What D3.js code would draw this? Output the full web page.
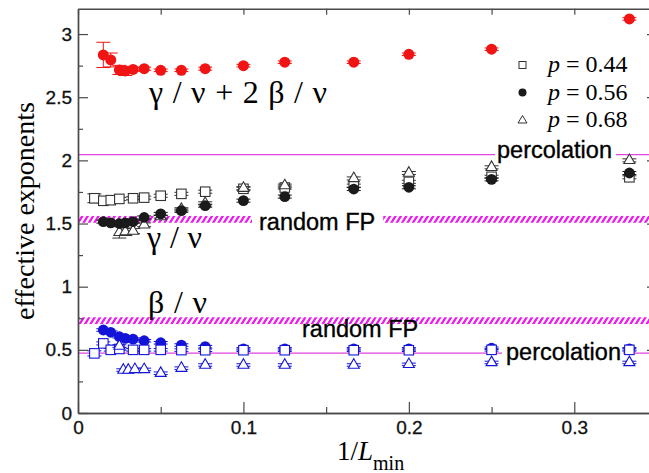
<!DOCTYPE html>
<html><head><meta charset="utf-8">
<script src="https://cdn.jsdelivr.net/npm/d3@7"></script>
<style>body{margin:0;background:#fff;} svg{display:block;}</style>
</head><body>
<svg id="chart" width="649" height="473"></svg>
<script>
// ---------- data ----------
const xTicks = [0, 0.1, 0.2, 0.3];
const xTickLabels = ["0", "0.1", "0.2", "0.3"];
const xMinorTicks = [0.05, 0.15, 0.25];
const yTicks = [0, 0.5, 1, 1.5, 2, 2.5, 3];
const yTickLabels = ["0", "0.5", "1", "1.5", "2", "2.5", "3"];
const yMinorTicks = [0.25, 0.75, 1.25, 1.75, 2.25, 2.75];

// gamma/nu + 2 beta/nu (red)
const xRed = [0.0153, 0.0198, 0.025, 0.0286, 0.0333, 0.04, 0.05, 0.0625, 0.0769, 0.1, 0.125, 0.1667, 0.2, 0.25, 0.3333];
const redVals = [2.835, 2.795, 2.716, 2.708, 2.72, 2.726, 2.713, 2.713, 2.726, 2.75, 2.777, 2.777, 2.84, 2.88, 3.12];
const redErr  = [0.10, 0.055, 0.036, 0.036, 0.015, 0.012, 0.01, 0.01, 0.012, 0.01, 0.01, 0.01, 0.01, 0.01, 0.01];

// gamma/nu, p = 0.44 (open squares)
const xSq = [0.0099, 0.0153, 0.0198, 0.025, 0.0333, 0.04, 0.05, 0.0625, 0.0769, 0.1, 0.125, 0.1667, 0.2, 0.25, 0.3333];
const gammaP44 = [1.70, 1.68, 1.685, 1.695, 1.70, 1.705, 1.72, 1.735, 1.752, 1.775, 1.785, 1.80, 1.83, 1.87, 1.866];
const gammaP44Err = [0.035, 0.015, 0.012, 0.012, 0.012, 0.012, 0.012, 0.012, 0.012, 0.012, 0.012, 0.012, 0.012, 0.012, 0.012];
// gamma/nu, p = 0.56 (filled circles)
const xCirc = [0.0153, 0.0198, 0.025, 0.0286, 0.0333, 0.04, 0.05, 0.0625, 0.0769, 0.1, 0.125, 0.1667, 0.2, 0.25, 0.3333];
const gammaP56 = [1.515, 1.505, 1.50, 1.505, 1.515, 1.548, 1.576, 1.602, 1.641, 1.681, 1.713, 1.773, 1.787, 1.85, 1.90];
const gammaP56Err = [0.012, 0.012, 0.012, 0.012, 0.012, 0.012, 0.012, 0.012, 0.012, 0.012, 0.012, 0.012, 0.012, 0.012, 0.012];
// gamma/nu, p = 0.68 (open triangles)
const xTri = [0.025, 0.0286, 0.0333, 0.04, 0.05, 0.0625, 0.0769, 0.1, 0.125, 0.1667, 0.2, 0.25, 0.3333];
const gammaP68 = [1.43, 1.435, 1.44, 1.49, 1.555, 1.613, 1.66, 1.78, 1.80, 1.857, 1.90, 1.945, 2.0];
const gammaP68Err = [0.045, 0.03, 0.02, 0.015, 0.012, 0.012, 0.012, 0.012, 0.012, 0.012, 0.012, 0.012, 0.012];

// beta/nu, p = 0.44 (open blue squares)
const betaP44 = [0.472, 0.551, 0.50, 0.507, 0.50, 0.50, 0.50, 0.498, 0.497, 0.497, 0.497, 0.497, 0.497, 0.50, 0.50];
const betaP44Err = [0.02, 0.012, 0.01, 0.01, 0.01, 0.01, 0.01, 0.01, 0.01, 0.01, 0.01, 0.01, 0.01, 0.01, 0.01];
// beta/nu, p = 0.56 (filled blue circles)
const betaP56 = [0.657, 0.639, 0.604, 0.591, 0.585, 0.572, 0.556, 0.538, 0.525, 0.508, 0.508, 0.508, 0.508, 0.513, 0.508];
const betaP56Err = [0.01, 0.01, 0.01, 0.01, 0.01, 0.01, 0.01, 0.01, 0.01, 0.01, 0.01, 0.01, 0.01, 0.01, 0.01];
// beta/nu, p = 0.68 (open blue triangles)
const xTriB = [0.025, 0.0274, 0.0304, 0.0344, 0.04, 0.05, 0.0625, 0.0769, 0.1, 0.125, 0.1667, 0.2, 0.25, 0.3333];
const betaP68 = [0.53, 0.34, 0.34, 0.345, 0.345, 0.315, 0.355, 0.38, 0.38, 0.38, 0.38, 0.385, 0.40, 0.40];
const betaP68Err = [0.01, 0.01, 0.01, 0.01, 0.01, 0.01, 0.01, 0.01, 0.01, 0.01, 0.01, 0.01, 0.01, 0.01];

// reference values
const gammaPerc = 2.045, gammaRandom = 1.533, gammaRandomHalf = 0.027;
const betaPerc = 0.474, betaRandom = 0.731, betaRandomHalf = 0.027;

const legendLabels = ["0.44", "0.56", "0.68"];

// ---------- drawing ----------
const svg = d3.select("#chart");
const x = d3.scaleLinear().domain([0, 0.35]).range([78, 657]);
const y = d3.scaleLinear().domain([0, 3.2]).range([413, 8.8]);

const MAG = "#ee1cee";
const defs = svg.append("defs");
const pat = defs.append("pattern").attr("id", "hatch")
  .attr("patternUnits", "userSpaceOnUse").attr("width", 5.4).attr("height", 40)
  .attr("patternTransform", "skewX(-32)");
pat.append("rect").attr("x", 0).attr("y", 0).attr("width", 5.4).attr("height", 40).attr("fill", "#fff");
pat.append("rect").attr("x", 0).attr("y", 0).attr("width", 2.7).attr("height", 40).attr("fill", MAG);
defs.append("clipPath").attr("id", "plotclip").append("rect")
  .attr("x", 78).attr("y", 8.8).attr("width", 579).attr("height", 404.2);

const plot = svg.append("g").attr("clip-path", "url(#plotclip)");

[[gammaRandom, gammaRandomHalf], [betaRandom, betaRandomHalf]].forEach(([v, h]) => {
  plot.append("rect").attr("x", x(0)).attr("width", x(0.35) - x(0))
    .attr("y", y(v + h)).attr("height", y(v - h) - y(v + h))
    .attr("fill", "url(#hatch)");
});
[gammaPerc, betaPerc].forEach(v => {
  plot.append("line").attr("x1", x(0)).attr("x2", x(0.35))
    .attr("y1", y(v)).attr("y2", y(v)).attr("stroke", "#e045e0").attr("stroke-width", 1.3);
});

const sans = "Liberation Sans, Arial, Helvetica, sans-serif";
const serif = "Liberation Serif, Times New Roman, Times, serif";
const annBg = svg.append("g");
function sansText(g, txt, px, py) {
  return g.append("text").attr("x", px).attr("y", py)
    .attr("font-family", sans).attr("font-size", 23.5).attr("fill", "#000")
    .attr("stroke", "#000").attr("stroke-width", 0.35).text(txt);
}
function annotate(g, txt, px, py, padL, padR) {
  const t = sansText(g, txt, px, py);
  const b = t.node().getBBox();
  annBg.append("rect").attr("x", b.x - padL).attr("y", b.y + 3)
    .attr("width", b.width + padL + padR).attr("height", b.height - 4).attr("fill", "#fff");
}

// Greek labels
function greek(txt, px, py, len) {
  svg.append("text").attr("x", px).attr("y", py).attr("font-family", serif)
    .attr("font-size", 32).attr("fill", "#000").attr("xml:space", "preserve")
    .attr("textLength", len).attr("lengthAdjust", "spacing").text(txt);
}
greek("γ / ν + 2 β / ν", 149, 103, 178);
greek("γ / ν", 147, 248, 55);
greek("β / ν", 148, 313, 59);

// ---------- data marks ----------
const dataG = svg.append("g");
const annFg = svg.append("g");
annotate(annFg, "random FP", 259, 230, 7, 8);
annotate(annFg, "percolation", 497, 158, 2, 4);
annotate(annFg, "percolation", 506, 360, 4, 2);
sansText(annFg, "random FP", 302, 337);

function errbars(xs, vs, es, color) {
  const g = dataG.append("g").attr("stroke", color).attr("stroke-width", 1);
  xs.forEach((xv, i) => {
    const cx = x(xv), y1 = y(vs[i] + es[i]), y2 = y(vs[i] - es[i]);
    g.append("line").attr("x1", cx).attr("x2", cx).attr("y1", y1).attr("y2", y2);
    g.append("line").attr("x1", cx - 7).attr("x2", cx + 7).attr("y1", y1).attr("y2", y1);
    g.append("line").attr("x1", cx - 7).attr("x2", cx + 7).attr("y1", y2).attr("y2", y2);
  });
}
function circles(xs, vs, color, r) {
  dataG.append("g").selectAll("circle").data(xs).join("circle")
    .attr("cx", d => x(d)).attr("cy", (d, i) => y(vs[i])).attr("r", r).attr("fill", color);
}
function squares(xs, vs, color, s) {
  dataG.append("g").selectAll("rect").data(xs).join("rect")
    .attr("x", d => x(d) - s / 2).attr("y", (d, i) => y(vs[i]) - s / 2)
    .attr("width", s).attr("height", s).attr("fill", "#fff").attr("stroke", color).attr("stroke-width", 1.1);
}
function triangles(xs, vs, color, s) {
  const h = s * Math.sqrt(3) / 2;
  dataG.append("g").selectAll("path").data(xs).join("path")
    .attr("d", (d, i) => {
      const cx = x(d), cy = y(vs[i]);
      return `M${cx},${cy - h * 2 / 3}L${cx + s / 2},${cy + h / 3}L${cx - s / 2},${cy + h / 3}Z`;
    })
    .attr("fill", "#fff").attr("stroke", color).attr("stroke-width", 1.1);
}
const BLK = "#1a1a1a", GRY = "#333", BLU = "#1414d8", RED = "#f01414";

errbars(xSq, gammaP44, gammaP44Err, GRY);
squares(xSq, gammaP44, GRY, 9.5);
errbars(xTri, gammaP68, gammaP68Err, GRY);
triangles(xTri, gammaP68, GRY, 11);
errbars(xCirc, gammaP56, gammaP56Err, BLK);
circles(xCirc, gammaP56, BLK, 5.4);

errbars(xCirc, betaP56, betaP56Err, BLU);
circles(xCirc, betaP56, BLU, 5.4);
errbars(xSq, betaP44, betaP44Err, BLU);
squares(xSq, betaP44, BLU, 9.5);
errbars(xTriB, betaP68, betaP68Err, BLU);
triangles(xTriB, betaP68, BLU, 11);

errbars(xRed, redVals, redErr, RED);
circles(xRed, redVals, RED, 5.5);

// ---------- axes ----------
const AX = "#4a4a4a";
function styleAxis(g) {
  g.select(".domain").attr("stroke", AX).attr("stroke-width", 1.4);
  g.selectAll(".tick line").attr("stroke", AX).attr("stroke-width", 1.2);
  g.selectAll("text").attr("font-family", sans).attr("font-size", 19).attr("fill", "#111")
    .attr("stroke", "#111").attr("stroke-width", 0.3);
}
svg.append("g").attr("transform", `translate(${x(0)},0)`)
  .call(d3.axisLeft(y).tickValues(yTicks).tickSizeInner(-10).tickSizeOuter(0).tickPadding(6)
    .tickFormat((d, i) => yTickLabels[i])).call(styleAxis);
svg.append("g").attr("transform", `translate(${x(0)},0)`)
  .call(d3.axisLeft(y).tickValues(yMinorTicks).tickSizeInner(-5).tickSizeOuter(0).tickFormat(""))
  .call(styleAxis);
svg.append("g").attr("transform", `translate(0,${y(0)})`)
  .call(d3.axisBottom(x).tickValues(xTicks).tickSizeInner(-11).tickSizeOuter(0).tickPadding(8)
    .tickFormat((d, i) => xTickLabels[i])).call(styleAxis);
svg.append("g").attr("transform", `translate(0,${y(0)})`)
  .call(d3.axisBottom(x).tickValues(xMinorTicks).tickSizeInner(-6).tickSizeOuter(0).tickFormat(""))
  .call(styleAxis);
svg.append("g").attr("transform", `translate(0,${y(3.2)})`)
  .call(d3.axisTop(x).tickValues(xTicks.concat(xMinorTicks)).tickSizeInner(-6).tickSizeOuter(0).tickFormat(""))
  .call(styleAxis);
svg.append("g").attr("transform", `translate(${x(0.35)},0)`)
  .call(d3.axisRight(y).tickValues(yTicks).tickSizeInner(-10).tickSizeOuter(0).tickFormat(""))
  .call(styleAxis);

svg.append("text").attr("transform", "translate(34,211) rotate(-90)")
  .attr("text-anchor", "middle").attr("font-family", serif).attr("font-size", 28)
  .attr("fill", "#000").text("effective exponents");
const xt = svg.append("text").attr("x", 337).attr("y", 460).attr("font-family", serif)
  .attr("font-size", 27).attr("fill", "#000");
xt.append("tspan").text("1/");
xt.append("tspan").attr("font-style", "italic").text("L");
xt.append("tspan").attr("font-size", 20).attr("dy", 10).text("min");

// ---------- legend ----------
const lg = svg.append("g");
const legY = [65, 92.5, 120];
lg.append("rect").attr("x", 522.5 - 3.5).attr("y", legY[0] - 3.5).attr("width", 7).attr("height", 7)
  .attr("fill", "#fff").attr("stroke", GRY).attr("stroke-width", 1);
lg.append("circle").attr("cx", 522.5).attr("cy", legY[1]).attr("r", 4).attr("fill", BLK);
lg.append("path").attr("d", `M522.5,${legY[2] - 4.5}L527,${legY[2] + 3}L518,${legY[2] + 3}Z`)
  .attr("fill", "#fff").attr("stroke", GRY).attr("stroke-width", 1);
legendLabels.forEach((lab, i) => {
  const t = lg.append("text").attr("x", 548).attr("y", legY[i] + 7).attr("font-family", serif)
    .attr("font-size", 24).attr("fill", "#000").attr("xml:space", "preserve");
  t.append("tspan").attr("font-style", "italic").text("p");
  t.append("tspan").text(" = " + lab);
});
</script>
</body></html>
